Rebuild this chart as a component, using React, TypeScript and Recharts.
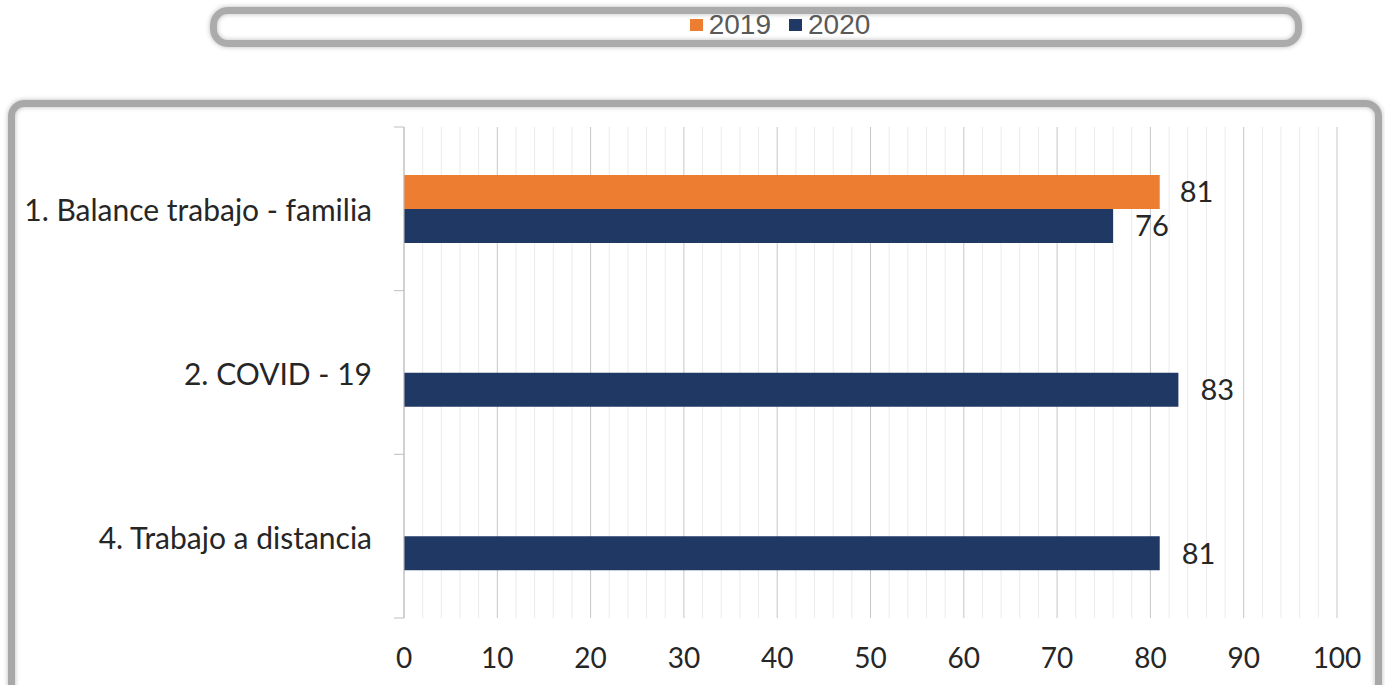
import React from "react";
import {
  BarChart,
  Bar,
  XAxis,
  YAxis,
  CartesianGrid,
  Legend,
  LabelList,
} from "recharts";

const categories = ["1. Balance trabajo - familia", "2. COVID - 19", "4. Trabajo a distancia"];
const values2019: (number | null)[] = [81, null, null];
const values2020: (number | null)[] = [76, 83, 81];
const xTicks = [0, 10, 20, 30, 40, 50, 60, 70, 80, 90, 100];
const minorTicks = [
  2, 4, 6, 8, 12, 14, 16, 18, 22, 24, 26, 28, 32, 34, 36, 38, 42, 44, 46, 48,
  52, 54, 56, 58, 62, 64, 66, 68, 72, 74, 76, 78, 82, 84, 86, 88, 92, 94, 96, 98,
];

const ORANGE = "#ED7D31";
const NAVY = "#1F3864";
const FONT = "Lato, 'Noto Sans', sans-serif";

const data = categories.map((name, i) => ({
  name,
  y2019: values2019[i],
  y2020: values2020[i],
}));

const W = 1385;
const H = 685;
const PLOT_TOP = 127;
const PLOT_BOTTOM = 67;
const HALF_BAND = (H - PLOT_TOP - PLOT_BOTTOM) / categories.length / 2;

// category label plus tick marks at the band edges, like the original
const CategoryTick = (props: any) => {
  const { x, y, payload, index } = props;
  const last = index === categories.length - 1;
  return (
    <g>
      <line x1={x + 22} x2={x + 32} y1={y - HALF_BAND} y2={y - HALF_BAND} stroke="#bfbfbf" />
      {last && <line x1={x + 22} x2={x + 32} y1={y + HALF_BAND} y2={y + HALF_BAND} stroke="#bfbfbf" />}
      <text x={x} y={y} dy={5} textAnchor="end" dominantBaseline="middle" fill="#262626" fontSize={30} fontFamily={FONT}>
        {payload.value}
      </text>
    </g>
  );
};

const LegendContent = () => (
  <div style={{ display: "flex", justifyContent: "center", alignItems: "center", fontFamily: "'Liberation Sans', Arial, sans-serif", fontSize: 28, color: "#595959" }}>
    <span style={{ width: 13, height: 12, background: ORANGE, display: "inline-block", marginRight: 6 }} />
    <span style={{ marginRight: 18 }}>2019</span>
    <span style={{ width: 13, height: 12, background: NAVY, display: "inline-block", marginRight: 6 }} />
    <span>2020</span>
  </div>
);

// minor gridlines every 2 units, placed with the axis scale
const minorGrid = ({ xAxis, offset }: any) =>
  minorTicks.map((v) =>
    xAxis && typeof xAxis.scale === "function"
      ? xAxis.scale(v)
      : offset.left + (v / 100) * offset.width
  );

export default function App() {
  return (
    <div style={{ position: "absolute", left: 0, top: 0, width: W, height: H, overflow: "hidden", background: "#fff" }}>
      <div
        style={{
          position: "absolute", left: 210, top: 7, width: 1092, height: 40, boxSizing: "border-box",
          border: "7px solid #ababab", borderRadius: 18, boxShadow: "0 0 5px #bbb, inset 0 0 5px #bbb",
        }}
      />
      <div
        style={{
          position: "absolute", left: 8, top: 100, width: 1374, height: 620, boxSizing: "border-box",
          border: "7px solid #a8a8a8", borderRadius: 16, boxShadow: "0 0 5px #bbb, inset 0 0 5px #bbb",
        }}
      />
      <div style={{ position: "absolute", left: 0, top: 0 }}>
        <BarChart
          width={W}
          height={H}
          data={data}
          layout="vertical"
          barSize={34}
          barGap={0}
          margin={{ top: PLOT_TOP, right: 48, left: 0, bottom: 0 }}
        >
          <CartesianGrid horizontal={false} stroke="#ebebeb" verticalCoordinatesGenerator={minorGrid} />
          <CartesianGrid horizontal={false} stroke="#c6c6c6" />
          <XAxis
            type="number"
            domain={[0, 100]}
            ticks={xTicks}
            axisLine={false}
            tickLine={false}
            tickSize={0}
            tickMargin={30}
            height={PLOT_BOTTOM}
            interval={0}
            tick={{ fontSize: 28, fill: "#262626", fontFamily: FONT }}
          />
          <YAxis
            type="category"
            dataKey="name"
            width={404}
            axisLine={{ stroke: "#bfbfbf" }}
            tickLine={false}
            tickSize={0}
            tickMargin={32}
            tick={<CategoryTick />}
          />
          <Legend
            layout="horizontal"
            verticalAlign="middle"
            align="center"
            content={<LegendContent />}
            wrapperStyle={{ top: 9, left: 0, width: 1560, height: 32 }}
          />
          <Bar dataKey="y2019" name="2019" fill={ORANGE} isAnimationActive={false}>
            <LabelList dataKey="y2019" position="right" offset={20} fill="#262626" fontSize={29} fontFamily={FONT} />
          </Bar>
          <Bar dataKey="y2020" name="2020" fill={NAVY} isAnimationActive={false}>
            <LabelList dataKey="y2020" position="right" offset={22} fill="#262626" fontSize={29} fontFamily={FONT} />
          </Bar>
        </BarChart>
      </div>
    </div>
  );
}
